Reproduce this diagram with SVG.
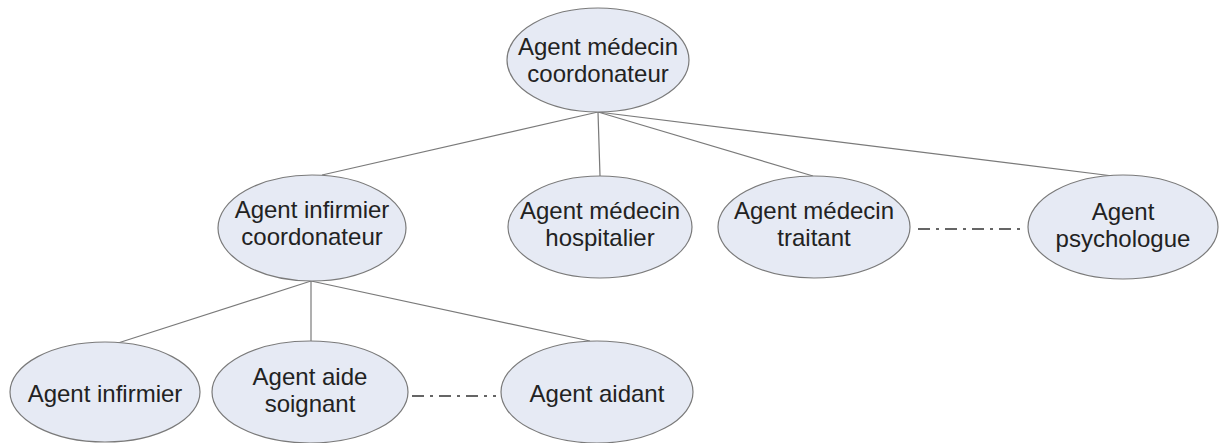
<svg xmlns="http://www.w3.org/2000/svg" width="1221" height="443" viewBox="0 0 1221 443">
  <style>
    .node ellipse { fill: #e6eaf4; stroke: #7a7a7a; stroke-width: 1.2; }
    .node text { font-family: "Liberation Sans", Arial, sans-serif; font-size: 24px; fill: #222; text-anchor: middle; }
    .link { stroke: #7a7a7a; stroke-width: 1.2; fill: none; }
    .assoc { stroke: #333; stroke-width: 1.6; fill: none; stroke-dasharray: 12 6 3 6; }
  </style>
  <rect width="1221" height="443" fill="#ffffff"/>

  <g id="connectors">
    <line class="link" x1="598" y1="112" x2="322" y2="175"/>
    <line class="link" x1="598" y1="112" x2="600" y2="176"/>
    <line class="link" x1="598" y1="112" x2="813" y2="176"/>
    <line class="link" x1="598" y1="112" x2="1113" y2="176"/>
    <line class="link" x1="311" y1="281" x2="118" y2="343"/>
    <line class="link" x1="311" y1="281" x2="311" y2="341"/>
    <line class="link" x1="311" y1="281" x2="590" y2="341"/>
    <line class="assoc" x1="918" y1="229" x2="1026" y2="229"/>
    <line class="assoc" x1="412" y1="396" x2="496" y2="396"/>
  </g>

  <g id="medecin-coordonateur" class="node">
    <ellipse cx="598" cy="60" rx="91" ry="52"/>
    <text x="598" y="55">Agent médecin</text>
    <text x="598" y="82">coordonateur</text>
  </g>

  <g id="infirmier-coordonateur" class="node">
    <ellipse cx="312" cy="228" rx="94" ry="53"/>
    <text x="312" y="218">Agent infirmier</text>
    <text x="312" y="245">coordonateur</text>
  </g>

  <g id="medecin-hospitalier" class="node">
    <ellipse cx="600" cy="227" rx="92" ry="51"/>
    <text x="600" y="219">Agent médecin</text>
    <text x="600" y="246">hospitalier</text>
  </g>

  <g id="medecin-traitant" class="node">
    <ellipse cx="814" cy="227" rx="96" ry="51"/>
    <text x="814" y="219">Agent médecin</text>
    <text x="814" y="246">traitant</text>
  </g>

  <g id="psychologue" class="node">
    <ellipse cx="1123" cy="227" rx="95" ry="52"/>
    <text x="1123" y="220">Agent</text>
    <text x="1123" y="247">psychologue</text>
  </g>

  <g id="infirmier" class="node">
    <ellipse cx="105" cy="392" rx="95" ry="50"/>
    <text x="105" y="402">Agent infirmier</text>
  </g>

  <g id="aide-soignant" class="node">
    <ellipse cx="310" cy="392" rx="98" ry="51"/>
    <text x="310" y="385">Agent aide</text>
    <text x="310" y="412">soignant</text>
  </g>

  <g id="aidant" class="node">
    <ellipse cx="597" cy="392" rx="96" ry="51"/>
    <text x="597" y="402">Agent aidant</text>
  </g>
</svg>
